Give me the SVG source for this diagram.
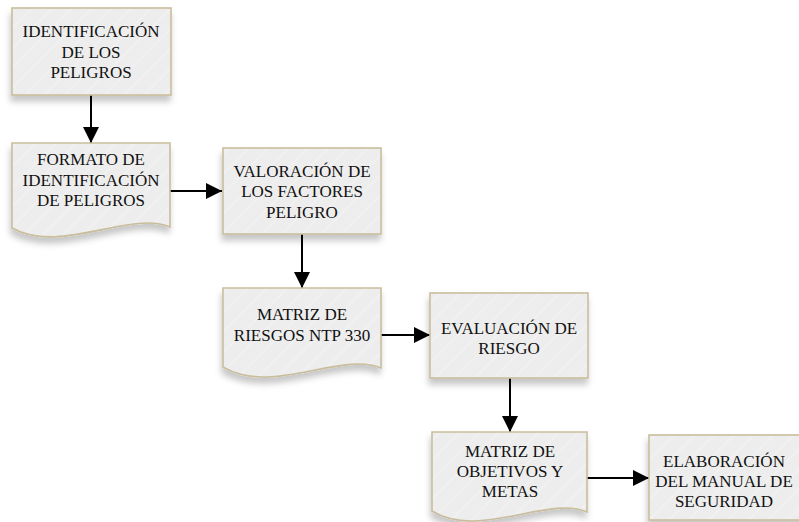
<svg xmlns="http://www.w3.org/2000/svg" width="799" height="522" viewBox="0 0 799 522">
<style>
.shape{fill:url(#stripes);stroke:#c8bd9c;stroke-width:1.6;filter:url(#shadow)}
.lbl{font-size:17px;fill:#111;text-anchor:middle}
.conn{stroke:#000;stroke-width:2;fill:none;marker-end:url(#arrow)}
</style>
<defs>
<pattern id="stripes" patternUnits="userSpaceOnUse" width="14" height="14" patternTransform="rotate(45)">
<rect width="14" height="14" fill="#ededed"/>
<rect width="1.5" height="14" fill="#f2f2f2"/>
</pattern>
<filter id="shadow" x="-10%" y="-10%" width="120%" height="130%">
<feDropShadow dx="-1" dy="6" stdDeviation="3" flood-color="#000" flood-opacity="0.22"/>
</filter>
<marker id="arrow" markerUnits="userSpaceOnUse" markerWidth="16" markerHeight="16" viewBox="0 0 10 10" refX="10" refY="5" orient="auto">
<path d="M0,0 L10,5 L0,10 z" fill="#000"/>
</marker>
</defs>
<rect width="799" height="522" fill="#fff"/>
<g id="connectors">
<line class="conn" x1="91" y1="95" x2="91" y2="143"/>
<line class="conn" x1="170" y1="191" x2="222" y2="191"/>
<line class="conn" x1="302" y1="234" x2="302" y2="288"/>
<line class="conn" x1="381" y1="335" x2="430" y2="335"/>
<line class="conn" x1="510" y1="378" x2="510" y2="432"/>
<line class="conn" x1="587" y1="478" x2="649" y2="478"/>
</g>
<g font-family="'Liberation Serif', 'Times New Roman', Tinos, 'DejaVu Serif', serif">
<g id="n1">
<rect class="shape" x="12" y="8" width="159" height="87"/>
<text class="lbl" x="91" y="37">IDENTIFICACIÓN</text>
<text class="lbl" x="91" y="58">DE LOS</text>
<text class="lbl" x="91" y="78">PELIGROS</text>
</g>
<g id="n2">
<path class="shape" d="M12,143 H170 V227 C130,210 60,255 12,228 Z"/>
<text class="lbl" x="91" y="165">FORMATO DE</text>
<text class="lbl" x="91" y="186">IDENTIFICACIÓN</text>
<text class="lbl" x="91" y="206">DE PELIGROS</text>
</g>
<g id="n3">
<rect class="shape" x="223" y="148" width="158" height="86"/>
<text class="lbl" x="302" y="177">VALORACIÓN DE</text>
<text class="lbl" x="302" y="197">LOS FACTORES</text>
<text class="lbl" x="302" y="218">PELIGRO</text>
</g>
<g id="n4">
<path class="shape" d="M223,288 H381 V368 C341,351 271,396 223,367 Z"/>
<text class="lbl" x="302" y="320">MATRIZ DE</text>
<text class="lbl" x="302" y="341">RIESGOS NTP 330</text>
</g>
<g id="n5">
<rect class="shape" x="430" y="293" width="158" height="85"/>
<text class="lbl" x="509" y="334">EVALUACIÓN DE</text>
<text class="lbl" x="509" y="354">RIESGO</text>
</g>
<g id="n6">
<path class="shape" d="M432,432 H587 V512 C548,495 479,540 432,511 Z"/>
<text class="lbl" x="510" y="457">MATRIZ DE</text>
<text class="lbl" x="510" y="477">OBJETIVOS Y</text>
<text class="lbl" x="510" y="497">METAS</text>
</g>
<g id="n7">
<rect class="shape" x="649" y="435" width="156" height="85"/>
<text class="lbl" x="724" y="467">ELABORACIÓN</text>
<text class="lbl" x="724" y="487">DEL MANUAL DE</text>
<text class="lbl" x="724" y="507">SEGURIDAD</text>
</g>
</g>
</svg>
